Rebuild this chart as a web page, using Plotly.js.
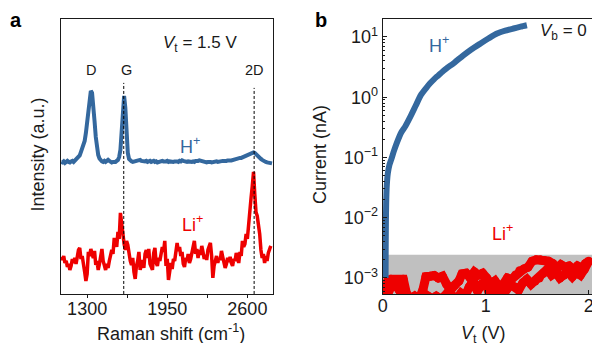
<!DOCTYPE html>
<html>
<head>
<meta charset="utf-8">
<script src="https://cdn.plot.ly/plotly-3.0.1.min.js"></script>
<style>
  html, body { margin: 0; padding: 0; background: #fff; }
  #chart { width: 592px; height: 343px; }
</style>
</head>
<body>
<div id="chart"></div>
<script>
// ---------- Panel a: Raman spectra at Vt = 1.5 V ----------
// H+ spectrum, sampled from 1090 cm-1 in 10 cm-1 steps (offset intensity, a.u.)
const ramanStartH = 1090, ramanStepH = 10;
const ramanH = [
  132, 131.5, 132.5, 131, 132, 133, 132, 131.5, 132.5, 133,
  132, 133.5, 134, 135, 136.5, 138.5, 142, 145, 148, 153,
  161, 172, 186, 198, 203, 201, 190, 173, 157, 146,
  139, 135.5, 133.5, 132.5, 132, 133, 132, 133, 134, 133,
  132, 131.5, 132, 131.5, 132, 133, 134, 137, 144, 162,
  188, 198, 186, 160, 141, 135, 133, 132.5, 132, 132.5,
  133, 132.5, 133, 133.5, 134, 133, 132.5, 133, 132.5, 133,
  132, 132.5, 133, 132, 132.5, 133, 132, 132.5, 131.5, 132,
  132.5, 132, 133, 132.5, 132, 132.5, 133, 132, 132.5, 132,
  131.5, 132, 132.5, 133, 132.5, 132, 133, 132.5, 133.5, 133,
  132.5, 133, 132, 132.5, 132, 131.5, 132, 132.5, 132, 133,
  132.5, 133, 133.5, 133, 132.5, 132, 132.5, 132, 131.5, 132,
  132.5, 132, 131.5, 132, 132.5, 132, 132.5, 132, 132.5, 133,
  132.5, 133, 133, 132.5, 133, 133.5, 133, 133.5, 133.5, 134,
  134, 134.5, 135, 135, 135.5, 136, 136, 136.5, 137, 137.5,
  138, 138.5, 139, 140, 140.5, 141.5, 141.5, 141, 139.5, 138,
  137, 136, 135, 134, 133, 132.5, 132, 131.5, 131, 131,
  130.5, 130.5
];
// Li+ spectrum, sampled from 1090 cm-1 in 10 cm-1 steps (a.u.)
const ramanStartLi = 1090, ramanStepLi = 10;
const ramanLi = [
  37, 34, 38, 31, 33, 27, 30, 24, 28, 35,
  31, 36, 30, 38, 44, 46, 35, 38, 26, 22,
  13, 20, 42, 38, 45, 40, 36, 43, 29, 33,
  24, 30, 38, 45, 33, 28, 24, 30, 26, 33,
  38, 44, 40, 56, 52, 47, 62, 55, 81, 68,
  56, 50, 44, 53, 49, 37, 33, 29, 36, 22,
  15, 28, 33, 42, 24, 29, 34, 26, 40, 44,
  36, 45, 30, 27, 24, 41, 46, 31, 28, 36,
  33, 40, 47, 42, 53, 28, 35, 14, 27, 31,
  25, 35, 33, 41, 51, 43, 47, 38, 42, 30,
  27, 36, 33, 40, 31, 35, 42, 48, 53, 40,
  45, 36, 44, 39, 48, 42, 35, 39, 34, 44,
  48, 51, 38, 16, 28, 35, 38, 31, 36, 34,
  43, 37, 33, 26, 30, 36, 32, 37, 31, 28,
  35, 33, 41, 35, 31, 42, 38, 53, 47, 50,
  60, 55, 72, 80, 96, 108, 122, 100, 82, 78,
  70, 60, 44, 36, 40, 31, 38, 33, 41, 45, 48
];
const ramanTickVals = [1300, 1625, 1950, 2275, 2600];
const ramanTickText = ['1300', '', '1950', '', '2600'];
const bandG = 1597;    // G band position (cm-1)
const band2D = 2655;   // 2D band position (cm-1)

// ---------- Panel b: current vs top-gate voltage, Vb = 0 ----------
const vtH = [0.028, 0.029, 0.031, 0.034, 0.040, 0.050, 0.065, 0.085, 0.11, 0.14,
             0.18, 0.22, 0.27, 0.32, 0.37, 0.42, 0.46, 0.50, 0.54, 0.58,
             0.62, 0.70, 0.78, 0.86, 0.95, 1.03, 1.11, 1.19, 1.27, 1.34, 1.40];
const currentH = [0.001, 0.003, 0.008, 0.018, 0.035, 0.055, 0.075, 0.095, 0.13, 0.18,
                  0.26, 0.33, 0.48, 0.72, 1.08, 1.4, 1.7, 2.0, 2.3, 2.65,
                  3.0, 3.8, 4.9, 6.2, 7.8, 9.5, 11.4, 12.7, 13.8, 14.8, 15.6];
// Li+ : forward sweep 0 -> 2 V followed by the return sweep
const vtLi = [0.03, 0.05, 0.08, 0.12, 0.16, 0.20, 0.23, 0.27, 0.31, 0.35,
              0.39, 0.42, 0.46, 0.50, 0.54, 0.58, 0.62, 0.66, 0.70, 0.74,
              0.77, 0.81, 0.85, 0.89, 0.93, 0.97, 1.01, 1.05, 1.09, 1.13,
              1.17, 1.21, 1.25, 1.29, 1.33, 1.37, 1.41, 1.45, 1.49, 1.53,
              1.57, 1.61, 1.65, 1.69, 1.73, 1.77, 1.81, 1.85, 1.89, 1.93,
              1.97, 2.00,
              1.96, 1.92, 1.88, 1.84, 1.80, 1.76, 1.72, 1.68, 1.64, 1.60,
              1.56, 1.52, 1.48, 1.44, 1.40, 1.36, 1.32, 1.28, 1.24, 1.20,
              1.16, 1.12, 1.08, 1.04, 1.00, 0.96, 0.92, 0.88, 0.84, 0.80,
              0.76, 0.72, 0.68, 0.64, 0.60, 0.56, 0.52, 0.48, 0.44, 0.40,
              0.36, 0.32, 0.28, 0.24, 0.20, 0.16, 0.12, 0.08, 0.04];
const currentLi = [0.0005, 0.00089, 0.00095, 0.00093, 0.00089, 0.00095, 0.00056, 0.00045, 0.0005, 0.00044,
                   0.00063, 0.00105, 0.00107, 0.0011, 0.001, 0.00107, 0.00079, 0.00063, 0.00076, 0.00089,
                   0.00117, 0.0012, 0.001, 0.00126, 0.00112, 0.0012, 0.001, 0.00079, 0.00089, 0.00071,
                   0.00079, 0.001, 0.00095, 0.00112, 0.00132, 0.00141, 0.00151, 0.0019, 0.002, 0.002,
                   0.00195, 0.0019, 0.00174, 0.00141, 0.00166, 0.00151, 0.00158, 0.00138, 0.00158, 0.00145,
                   0.00174, 0.0019,
                   0.00141, 0.00112, 0.00126, 0.00105, 0.00126, 0.00112, 0.001, 0.00126, 0.00112, 0.00141,
                   0.0012, 0.001, 0.00089, 0.00079, 0.00095, 0.00083, 0.00063, 0.00071, 0.00079, 0.00063,
                   0.0005, 0.00045, 0.00056, 0.0005, 0.00089, 0.00079, 0.0006, 0.00089, 0.00071, 0.0005,
                   0.00056, 0.00045, 0.0005, 0.0006, 0.0005, 0.00045, 0.0005, 0.00045, 0.0005, 0.0004,
                   0.00045, 0.0004, 0.00045, 0.0005, 0.00071, 0.00063, 0.00079, 0.00071, 0.0005];
const noiseFloor = 0.00243;   // nA, shaded instrument floor
const currentTickVals = [0.001, 0.01, 0.1, 1, 10];
const currentTickText = ['10<sup>\u22123</sup>', '10<sup>\u22122</sup>', '10<sup>\u22121</sup>',
                         '10<sup>0</sup>', '10<sup>1</sup>'];
const vtTickVals = [0, 1, 2];

// ---------- styling ----------
const BLUE = '#34689e';
const RED = '#ee0000';
const INK = '#1a1a1a';
const FONT = 'Liberation Sans, Arial, sans-serif';
const W = 592, H = 343;
const px = (x, y) => ({ x: x / W, y: 1 - y / H });

function label(text, x, y, opts) {
  const p = px(x, y);
  return Object.assign({
    text: text, x: p.x, y: p.y, xref: 'paper', yref: 'paper',
    xanchor: 'center', yanchor: 'middle', showarrow: false,
    font: { family: FONT, size: 18, color: INK }
  }, opts || {});
}

const traces = [
  { x0: ramanStartH, dx: ramanStepH, y: ramanH, xaxis: 'x', yaxis: 'y',
    mode: 'lines', line: { color: BLUE, width: 4 }, hoverinfo: 'skip' },
  { x0: ramanStartLi, dx: ramanStepLi, y: ramanLi, xaxis: 'x', yaxis: 'y',
    mode: 'lines', line: { color: RED, width: 3.5 }, hoverinfo: 'skip' },
  { x: vtLi, y: currentLi, xaxis: 'x2', yaxis: 'y2', mode: 'lines+markers',
    line: { color: RED, width: 9 }, marker: { color: RED, size: 9 }, hoverinfo: 'skip' },
  { x: vtH, y: currentH, xaxis: 'x2', yaxis: 'y2', mode: 'lines',
    line: { color: BLUE, width: 6, shape: 'spline', smoothing: 0.6 }, hoverinfo: 'skip' }
];

const yDomain = [0.143, 0.945];
const axisBase = {
  showline: true, linecolor: INK, linewidth: 1, showgrid: false, zeroline: false,
  tickcolor: INK, tickfont: { family: FONT, size: 18, color: INK }
};

const layout = {
  width: W, height: H,
  margin: { l: 0, r: 0, t: 0, b: 0 },
  paper_bgcolor: '#fff', plot_bgcolor: 'rgba(0,0,0,0)',
  showlegend: false,
  font: { family: FONT, size: 18, color: INK },
  xaxis: Object.assign({}, axisBase, {
    domain: [61 / W, 273 / W], range: [1088, 2808], anchor: 'y',
    tickmode: 'array', tickvals: ramanTickVals, ticktext: ramanTickText,
    ticks: 'outside', ticklen: 3, mirror: true, ticklabelstandoff: -5
  }),
  yaxis: Object.assign({}, axisBase, {
    domain: yDomain, range: [0, 275], anchor: 'x',
    showticklabels: false, ticks: '', mirror: true
  }),
  xaxis2: Object.assign({}, axisBase, {
    domain: [382.7 / W, 1], range: [0, 2.032], anchor: 'y2',
    tickmode: 'array', tickvals: vtTickVals, ticks: 'inside', ticklen: 4, mirror: true,
    ticklabelstandoff: -5, ticklabeloverflow: 'allow'
  }),
  yaxis2: Object.assign({}, axisBase, {
    domain: yDomain, type: 'log', range: [-3.265, 1.30], anchor: 'x2',
    tickmode: 'array', tickvals: currentTickVals, ticktext: currentTickText,
    ticks: 'inside', ticklen: 4,
    minor: { ticks: 'inside', ticklen: 2, tickcolor: INK, dtick: 'D1', showgrid: false }
  }),
  shapes: [
    { type: 'line', xref: 'x', yref: 'y', x0: bandG, x1: bandG, y0: 0, y1: 211,
      line: { color: '#000', width: 1, dash: '3px,2px' } },
    { type: 'line', xref: 'x', yref: 'y', x0: band2D, x1: band2D, y0: 0, y1: 206,
      line: { color: '#000', width: 1, dash: '3px,2px' } },
    { type: 'rect', xref: 'x2 domain', yref: 'y2', x0: 0, x1: 1, y0: 0.0001, y1: noiseFloor,
      fillcolor: '#c0c0c0', line: { width: 0 }, layer: 'below' }
  ],
  annotations: [
    label('<b>a</b>', 16, 20, { font: { family: FONT, size: 20, color: '#000' } }),
    label('<b>b</b>', 321, 20, { font: { family: FONT, size: 20, color: '#000' } }),
    label('<i>V</i><sub>t</sub> = 1.5 V', 200, 44, { font: { family: FONT, size: 17, color: INK } }),
    label('D', 91, 70, { font: { family: FONT, size: 14.5, color: INK } }),
    label('G', 126, 70, { font: { family: FONT, size: 14.5, color: INK } }),
    label('2D', 254, 70, { font: { family: FONT, size: 14.5, color: INK } }),
    label('H<sup>+</sup>', 190, 146, { font: { family: FONT, size: 18, color: BLUE } }),
    label('Li<sup>+</sup>', 192, 223, { font: { family: FONT, size: 18, color: RED } }),
    label('Intensity (a.u.)', 37.5, 155, { textangle: -90 }),
    label('Raman shift (cm<sup>-1</sup>)', 171, 332),
    label('H<sup>+</sup>', 439, 44, { font: { family: FONT, size: 18, color: BLUE } }),
    label('<i>V</i><sub>b</sub> = 0', 563, 32, { font: { family: FONT, size: 17, color: INK } }),
    label('Li<sup>+</sup>', 502, 233, { font: { family: FONT, size: 18, color: RED } }),
    label('Current (nA)', 320, 155, { textangle: -90 }),
    label('<i>V</i><sub>t</sub> (V)', 483.5, 334)
  ]
};

Plotly.newPlot('chart', traces, layout, { staticPlot: true, displayModeBar: false });
</script>
</body>
</html>
